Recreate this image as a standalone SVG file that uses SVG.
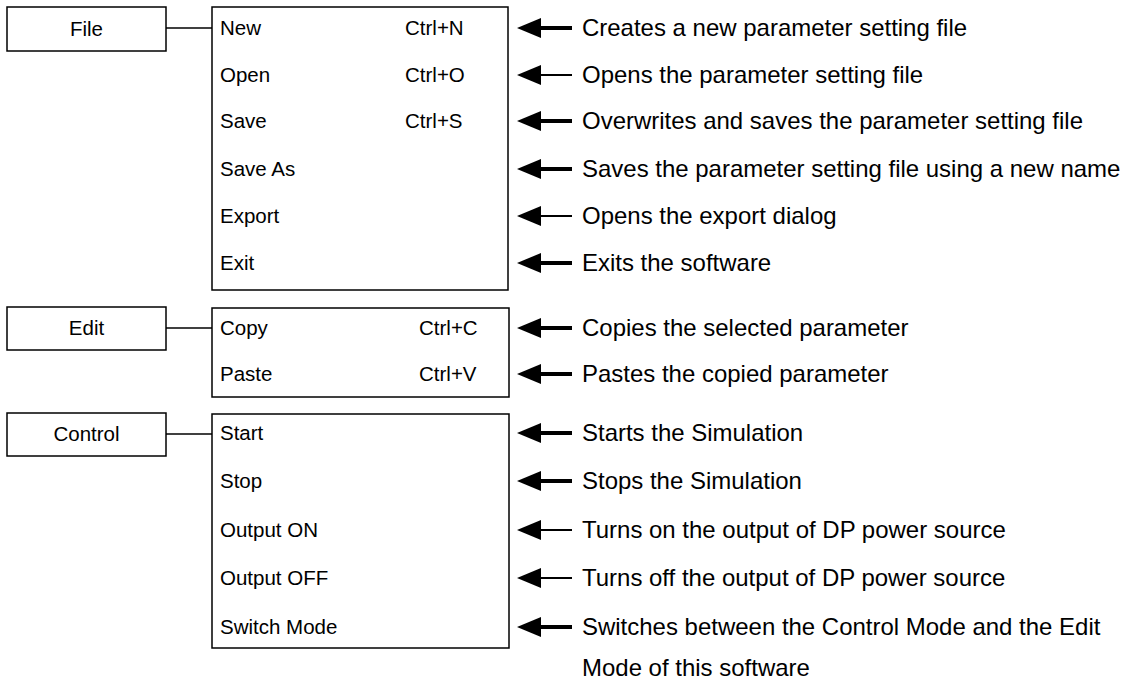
<svg xmlns="http://www.w3.org/2000/svg" width="1126" height="681" viewBox="0 0 1126 681">
<defs>
<style>
.box{fill:#fff;stroke:#000;stroke-width:1.5}
.t{font-family:"Liberation Sans",Arial,sans-serif;font-size:20.5px;fill:#000}
.d{font-family:"Liberation Sans",Arial,sans-serif;font-size:23px;fill:#000}
.c{text-anchor:middle}
.ln{stroke:#000;stroke-width:1.5;fill:none}
.thick{stroke:#000;stroke-width:4}
.thin{stroke:#000;stroke-width:2}
</style>
<marker id="ah" markerUnits="userSpaceOnUse" markerWidth="24" markerHeight="20" refX="1" refY="10" orient="auto" viewBox="0 0 24 20">
<path d="M0,0 L24,10 L0,20 Z" fill="#000"/>
</marker>
</defs>
<rect width="1126" height="681" fill="#fff"/>
<g id="file">
<rect class="box" x="7" y="7" width="159" height="44"/>
<text class="t c" x="86.5" y="36">File</text>
</g>
<g id="file-menu">
<rect class="box" x="212" y="7" width="296" height="283"/>
<text class="t" x="220" y="35">New</text><text class="t" x="405" y="35">Ctrl+N</text>
<text class="t" x="220" y="82">Open</text><text class="t" x="405" y="82">Ctrl+O</text>
<text class="t" x="220" y="128">Save</text><text class="t" x="405" y="128">Ctrl+S</text>
<text class="t" x="220" y="176">Save As</text>
<text class="t" x="220" y="223">Export</text>
<text class="t" x="220" y="270">Exit</text>
</g>
<g id="edit">
<rect class="box" x="7" y="307" width="159" height="43"/>
<text class="t c" x="86.5" y="335">Edit</text>
</g>
<g id="edit-menu">
<rect class="box" x="212" y="308" width="297" height="89"/>
<text class="t" x="220" y="335">Copy</text><text class="t" x="419" y="335">Ctrl+C</text>
<text class="t" x="220" y="381">Paste</text><text class="t" x="419" y="381">Ctrl+V</text>
</g>
<g id="control">
<rect class="box" x="7" y="413" width="159" height="43"/>
<text class="t c" x="86.5" y="441">Control</text>
</g>
<g id="control-menu">
<rect class="box" x="212" y="414" width="297" height="234"/>
<text class="t" x="220" y="440">Start</text>
<text class="t" x="220" y="488">Stop</text>
<text class="t" x="220" y="537">Output ON</text>
<text class="t" x="220" y="585">Output OFF</text>
<text class="t" x="220" y="634">Switch Mode</text>
</g>
<g id="descriptions" transform="matrix(1.043,0,0,1,-25.03,0)">
<text class="d" x="582" y="36">Creates a new parameter setting file</text>
<text class="d" x="582" y="83">Opens the parameter setting file</text>
<text class="d" x="582" y="129">Overwrites and saves the parameter setting file</text>
<text class="d" x="582" y="177">Saves the parameter setting file using a new name</text>
<text class="d" x="582" y="224">Opens the export dialog</text>
<text class="d" x="582" y="271">Exits the software</text>
<text class="d" x="582" y="336">Copies the selected parameter</text>
<text class="d" x="582" y="382">Pastes the copied parameter</text>
<text class="d" x="582" y="441">Starts the Simulation</text>
<text class="d" x="582" y="489">Stops the Simulation</text>
<text class="d" x="582" y="538">Turns on the output of DP power source</text>
<text class="d" x="582" y="586">Turns off the output of DP power source</text>
<text class="d" x="582" y="635">Switches between the Control Mode and the Edit</text>
<text class="d" x="582" y="676">Mode of this software</text>
</g>
<g id="connectors">
<line class="ln" x1="166" y1="28" x2="212" y2="28"/>
<line class="ln" x1="166" y1="328" x2="212" y2="328"/>
<line class="ln" x1="166" y1="434" x2="212" y2="434"/>
<line class="thick" x1="572" y1="28" x2="540" y2="28" marker-end="url(#ah)"/>
<line class="thin" x1="572" y1="75" x2="540" y2="75" marker-end="url(#ah)"/>
<line class="thick" x1="572" y1="121" x2="540" y2="121" marker-end="url(#ah)"/>
<line class="thick" x1="572" y1="169" x2="540" y2="169" marker-end="url(#ah)"/>
<line class="thin" x1="572" y1="216" x2="540" y2="216" marker-end="url(#ah)"/>
<line class="thick" x1="572" y1="263" x2="540" y2="263" marker-end="url(#ah)"/>
<line class="thick" x1="572" y1="328" x2="540" y2="328" marker-end="url(#ah)"/>
<line class="thick" x1="572" y1="374" x2="540" y2="374" marker-end="url(#ah)"/>
<line class="thick" x1="572" y1="433" x2="540" y2="433" marker-end="url(#ah)"/>
<line class="thick" x1="572" y1="481" x2="540" y2="481" marker-end="url(#ah)"/>
<line class="thin" x1="572" y1="530" x2="540" y2="530" marker-end="url(#ah)"/>
<line class="thin" x1="572" y1="578" x2="540" y2="578" marker-end="url(#ah)"/>
<line class="thick" x1="572" y1="627" x2="540" y2="627" marker-end="url(#ah)"/>
</g>
</svg>
